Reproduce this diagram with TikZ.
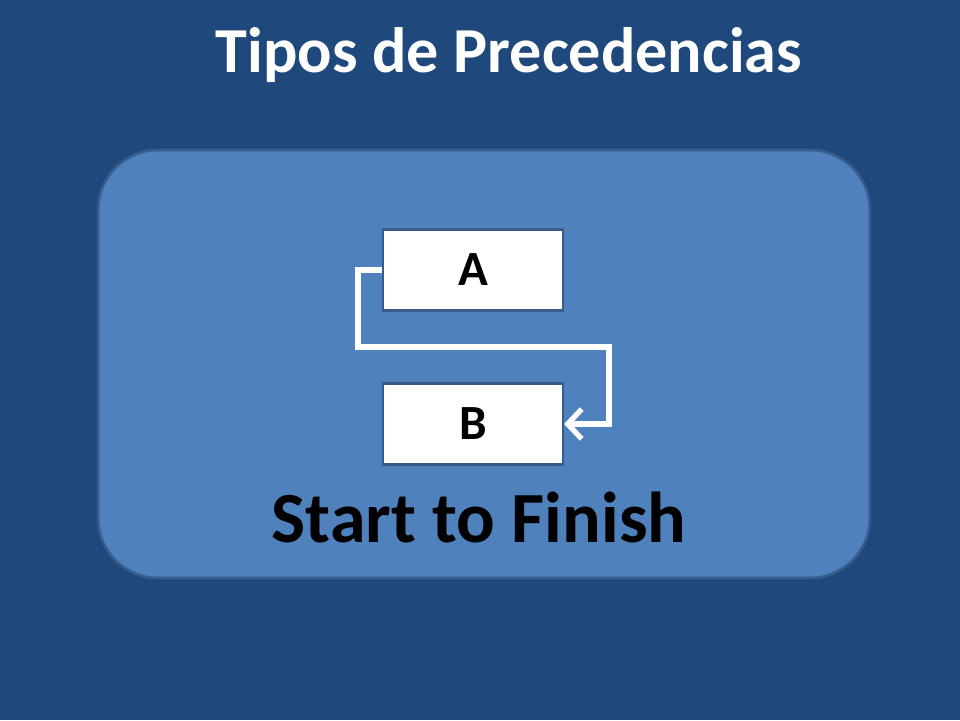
\documentclass[tikz,border=0pt]{standalone}
\usepackage{fontspec}
\setmainfont{Carlito}
\usetikzlibrary{arrows.meta}

\definecolor{slidebg}{HTML}{1F497D}
\definecolor{panelfill}{HTML}{4F81BD}
\definecolor{paneledge}{HTML}{385D8A}

\tikzset{
	task/.style={draw=paneledge,line width=1.2pt,fill=white,minimum width=3.6cm,minimum height=1.62cm,inner sep=0pt,font=\fontsize{28}{33}\selectfont\bfseries},
	conn/.style={draw=white,line width=3pt,-{Straight Barb[length=8pt,width=17pt,line width=3pt]}}
}

\begin{document}
\begin{tikzpicture}[x=0.02cm,y=-0.02cm]
		\fill[slidebg] (0,0) rectangle (960,720);
		\useasboundingbox (0,0) rectangle (960,720);
		\draw[paneledge,fill=panelfill,line width=1.5pt,rounded corners=1.2cm] (98,150) rectangle (870,578);
		\node[text=white,font=\fontsize{36.5}{44}\selectfont\bfseries] (title) at (509,55) {Tipos de Precedencias};
		\node[task] (A) at (473,270) {A};
		\node[task] (B) at (473,424) {B};
		\coordinate (p1) at (358,347);
		\coordinate (p2) at (609,347);
		\draw[conn] (A.west) -| (p1) -- (p2) |- (B.east);
		\node[font=\fontsize{41}{49}\selectfont\bfseries] (kind) at (479,517) {Start to Finish};
	\end{tikzpicture}
\end{document}
